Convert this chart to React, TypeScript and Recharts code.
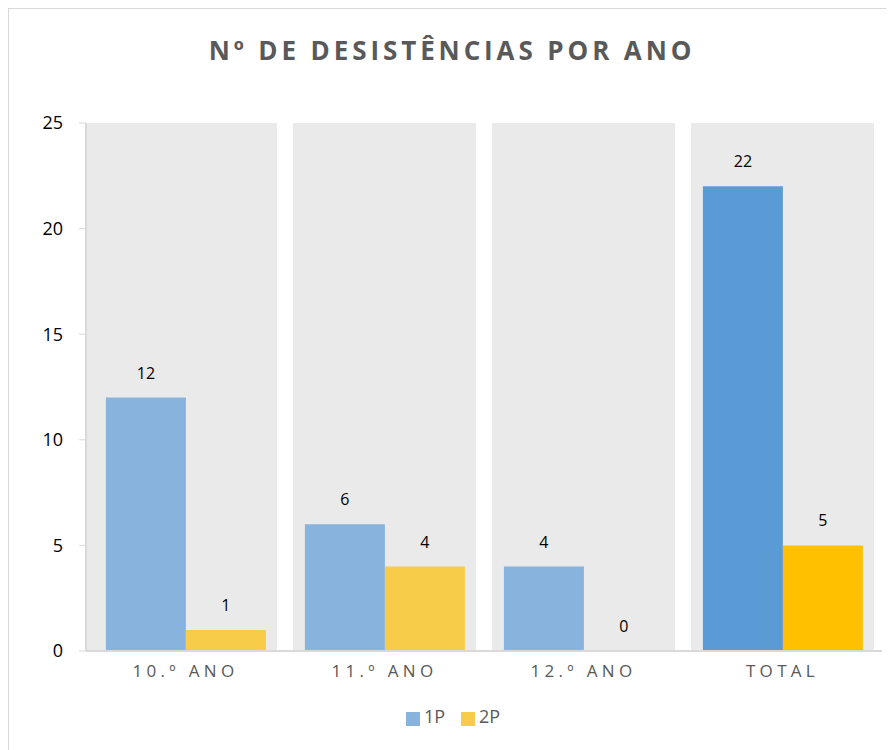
import {
  BarChart,
  Bar,
  XAxis,
  YAxis,
  CartesianGrid,
  Legend,
  LabelList,
  ReferenceArea,
  Cell,
} from "recharts";

const CATEGORIES = ["10.º ANO", "11.º ANO", "12.º ANO", "TOTAL"];
const P1_VALUES = [12, 6, 4, 22];
const P2_VALUES = [1, 4, 0, 5];
const Y_TICKS = [0, 5, 10, 15, 20, 25];

const P1_COLORS = ["#88B3DD", "#88B3DD", "#88B3DD", "#5B9BD5"];
const P2_COLORS = ["#F7CC48", "#F7CC48", "#F7CC48", "#FFC000"];

const data = CATEGORIES.map((name, i) => ({
  name,
  p1: P1_VALUES[i],
  p2: P2_VALUES[i],
}));

const FONT = "'Open Sans', sans-serif";

function Band(props: any) {
  const { x, y, width, height, first } = props;
  const inset = 8;
  const left = first ? 0 : inset;
  return (
    <rect
      x={x + left}
      y={y}
      width={width - left - inset}
      height={height}
      fill="#EAEAEA"
    />
  );
}

function XTick(props: any) {
  const { x, y, payload } = props;
  return (
    <text
      x={x}
      y={y}
      dy={18}
      textAnchor="middle"
      fill="#595959"
      fontSize={17}
      fontFamily={FONT}
      style={{ letterSpacing: 4.3 }}
    >
      {payload.value}
    </text>
  );
}

// draws the value even when the bar has zero height
function ValueLabel(props: any) {
  const { x, y, width, value } = props;
  if (value === undefined || value === null) return null;
  return (
    <text
      x={x + width / 2}
      y={y - 19}
      textAnchor="middle"
      fill="#000"
      fontSize={16}
      fontFamily={FONT}
    >
      {value}
    </text>
  );
}

// tiny min size so that zero-value bars still get a label
const minSize = (v: number) => (v === 0 ? 0.01 : 0);

export default function App() {
  return (
    <div
      style={{
        width: 886,
        height: 760,
        border: "1px solid #D9D9D9",
        position: "relative",
        fontFamily: FONT,
        background: "#fff",
      }}
    >
      <div
        style={{
          position: "absolute",
          top: 23,
          left: 0,
          width: 886,
          textAlign: "center",
          fontSize: 26,
          fontWeight: 700,
          letterSpacing: 3.9,
          color: "#595959",
        }}
      >
        Nº DE DESISTÊNCIAS POR ANO
      </div>
      <BarChart
        width={885}
        height={741}
        data={data}
        margin={{ top: 114, right: 12, left: 0, bottom: 35 }}
        barCategoryGap="10%"
        barGap={0}
      >
        {CATEGORIES.map((c, i) => (
          <ReferenceArea
            key={c}
            x1={c}
            x2={c}
            shape={<Band first={i === 0} />}
          />
        ))}
        <CartesianGrid
          vertical={false}
          stroke="#FFFFFF"
          strokeDasharray="3 2"
        />
        <XAxis
          dataKey="name"
          height={40}
          tickLine={false}
          axisLine={{ stroke: "#D9D9D9", strokeWidth: 2 }}
          tick={<XTick />}
        />
        <YAxis
          width={77}
          domain={[0, 25]}
          ticks={Y_TICKS}
          axisLine={{ stroke: "#D9D9D9", strokeWidth: 2 }}
          tickLine={{ stroke: "#D9D9D9" }}
          tickSize={7}
          tick={{ fill: "#000", fontSize: 18, fontFamily: FONT }}
          tickMargin={16}
        />
        <Legend
          iconType="square"
          iconSize={14}
          wrapperStyle={{ left: 0, width: 904, top: 695 }}
          formatter={(value: string) => (
            <span
              style={{
                color: "#595959",
                fontSize: 18,
                fontFamily: FONT,
                marginRight: 6,
              }}
            >
              {value}
            </span>
          )}
        />
        <Bar
          dataKey="p1"
          name="1P"
          fill="#88B3DD"
          minPointSize={minSize}
          isAnimationActive={false}
        >
          {data.map((_, i) => (
            <Cell key={`p1-${i}`} fill={P1_COLORS[i]} />
          ))}
          <LabelList dataKey="p1" content={<ValueLabel />} />
        </Bar>
        <Bar
          dataKey="p2"
          name="2P"
          fill="#F7CC48"
          minPointSize={minSize}
          isAnimationActive={false}
        >
          {data.map((_, i) => (
            <Cell key={`p2-${i}`} fill={P2_COLORS[i]} />
          ))}
          <LabelList dataKey="p2" content={<ValueLabel />} />
        </Bar>
      </BarChart>
    </div>
  );
}
